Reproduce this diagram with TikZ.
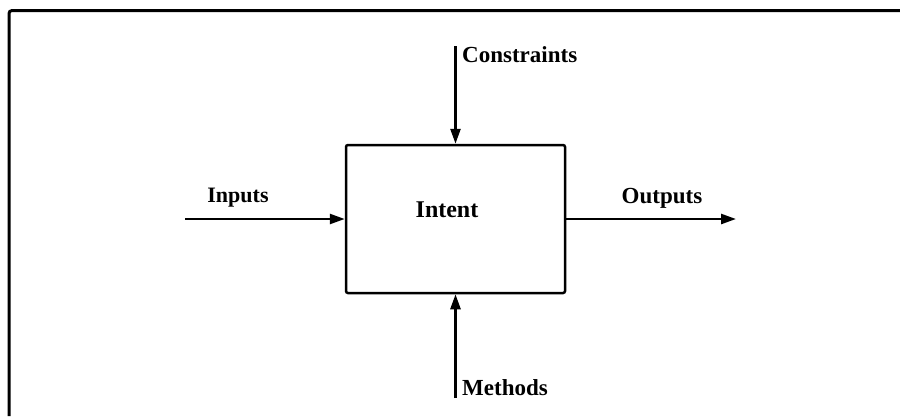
\documentclass[tikz,border=0pt]{standalone}
\usepackage{fontspec}
\setmainfont{Liberation Serif}
\usetikzlibrary{arrows.meta}
\begin{document}
\begin{tikzpicture}[x=1pt,y=-1pt,
    flow/.style={line width=2.5pt,-{Triangle[length=15pt,width=10pt]}},
    lbl/.style={inner sep=0pt,font=\fontsize{23}{27}\selectfont\bfseries},
    intentbox/.style={draw,line width=2.5pt,rounded corners=2pt,minimum width=219pt,minimum height=148pt,inner sep=0pt}]
  \useasboundingbox (0,0) rectangle (900,416);
  \clip (0,0) rectangle (900,416);
  % page frame
  \draw[line width=3pt,rounded corners=3pt] (9,416) -- (9,10.5) -- (900,10.5);
  % central activity box
  \node[intentbox] (intent) at (455.5,219) {};
  \node[lbl,font=\fontsize{24}{28}\selectfont\bfseries] (intentlbl) at (447,210) {Intent};
  % connectors
  \coordinate (cin) at (185,219);
  \coordinate (cout) at (736,219);
  \coordinate (ctop) at (455.5,46);
  \coordinate (cbot) at (455.5,398);
  \draw[flow] (cin) -- (intent.west);
  \draw[flow] (intent.east) -- (cout);
  \draw[flow] (ctop) -- (intent.north);
  \draw[flow] (cbot) -- (intent.south);
  % labels
  \node[lbl,font=\fontsize{22}{26}\selectfont\bfseries] (inputs) at (238,198) {Inputs};
  \node[lbl] (outputs) at (662,198) {Outputs};
  \node[lbl,anchor=west] (constraints) at (462,55) {Constraints};
  \node[lbl,anchor=west] (methods) at (462,388) {Methods};
\end{tikzpicture}
\end{document}
